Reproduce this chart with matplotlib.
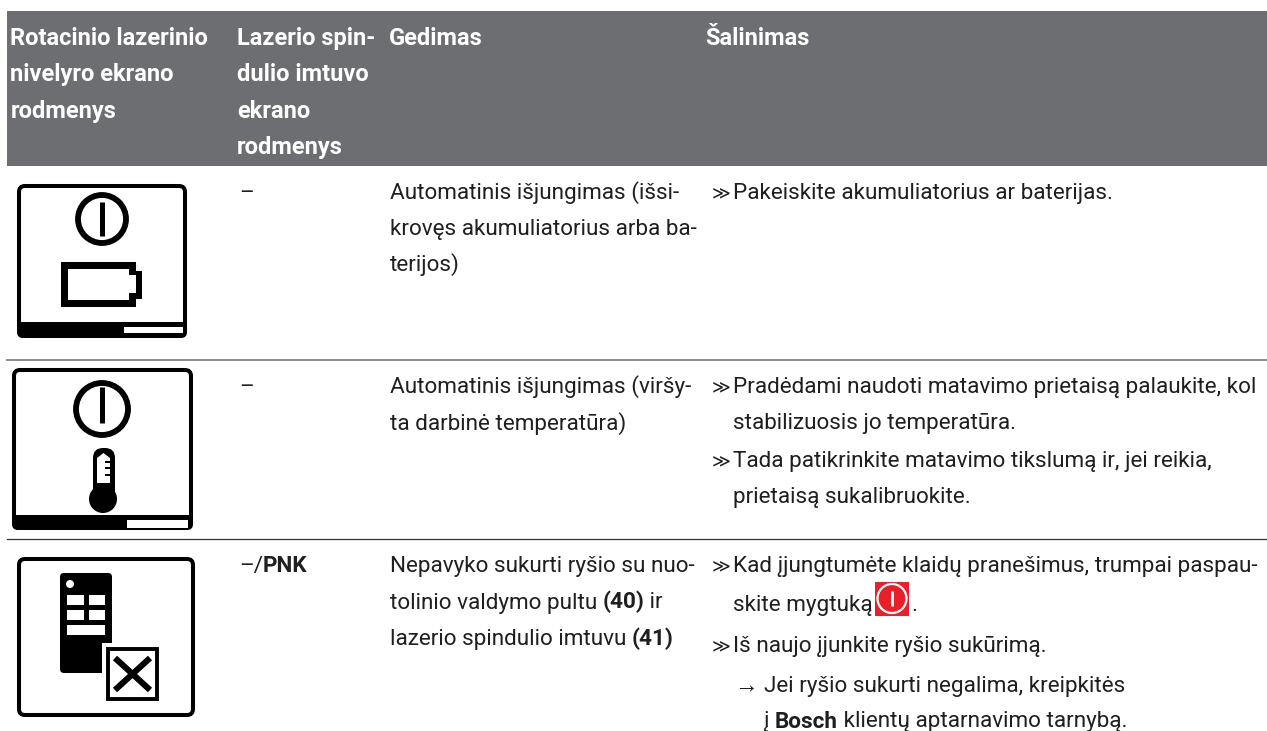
#!/usr/bin/env python
import matplotlib
matplotlib.use("Agg")
import matplotlib.pyplot as plt
from matplotlib.patches import Rectangle, Circle, FancyBboxPatch, Polygon

FONT = ["Roboto", "DejaVu Sans"]
INK = "#1f1f1f"

# header labels, one list per column
header_col1 = ["Rotacinio lazerinio", "nivelyro ekrano", "rodmenys"]
header_col2 = ["Lazerio spin-", "dulio imtuvo", "ekrano", "rodmenys"]
header_col3 = ["Gedimas"]
header_col4 = ["Šalinimas"]

# body text, **...** marks bold pieces
row1_receiver = ["–"]
row1_fault = ["Automatinis išjungimas (išsi-", "krovęs akumuliatorius arba ba-", "terijos)"]
row1_fix = ["Pakeiskite akumuliatorius ar baterijas."]

row2_receiver = ["–"]
row2_fault = ["Automatinis išjungimas (viršy-", "ta darbinė temperatūra)"]
row2_fix1 = ["Pradėdami naudoti matavimo prietaisą palaukite, kol", "stabilizuosis jo temperatūra."]
row2_fix2 = ["Tada patikrinkite matavimo tikslumą ir, jei reikia,", "prietaisą sukalibruokite."]

row3_receiver = ["–/**PNK**"]
row3_fault = ["Nepavyko sukurti ryšio su nuo-", "tolinio valdymo pultu **(40)** ir", "lazerio spindulio imtuvu **(41)**"]
row3_fix1 = ["Kad įjungtumėte klaidų pranešimus, trumpai paspau-", "skite mygtuką"]
row3_fix2 = ["Iš naujo įjunkite ryšio sukūrimą."]
row3_fix3 = ["Jei ryšio sukurti negalima, kreipkitės", "į **Bosch** klientų aptarnavimo tarnybą."]

fig = plt.figure(figsize=(12.67, 7.31), dpi=100)
ax = fig.add_axes([0, 0, 1, 1])
ax.set_xlim(0, 1267)
ax.set_ylim(731, 0)
ax.axis("off")
SIZE = 16.2
HEAD = 17.0


def rich(x, y, s, bold=False, size=SIZE, color=INK):
    # draw a line piece by piece so bold words follow regular ones
    r = fig.canvas.get_renderer()
    for i, part in enumerate(s.split("**")):
        if not part:
            continue
        w = "bold" if bold or i % 2 else "normal"
        t = ax.text(x, y, part, family=FONT, weight=w, fontsize=size, color=color, va="baseline", ha="left")
        x += t.get_window_extent(r).width


def block(x, y, lines, pitch=36.5):
    for i, s in enumerate(lines):
        rich(x, y + i * pitch, s)


def head(x, lines):
    for i, s in enumerate(lines):
        rich(x, 45 + i * 36.3, s, True, HEAD, "white")


def bullet(y):
    ax.text(711.5, y, "≫", family="DejaVu Sans", fontsize=13, color=INK, va="baseline", ha="left")


def black(x0, y0, x1, y1, color="black"):
    ax.add_patch(Rectangle((x0, y0), x1 - x0, y1 - y0, fc=color, ec="none"))


def frame(x0, y0, x1, y1):
    # outer edge of the icon box is x0..x1, y0..y1
    ax.add_patch(FancyBboxPatch((x0 + 2, y0 + 2), x1 - x0 - 4, y1 - y0 - 4, boxstyle="round,pad=0,rounding_size=6",
                                fc="white", ec="black", lw=2.9))


def footer(x0, x1, top, y1, slot0, slot1, slot_t, slot_b):
    ax.add_patch(FancyBboxPatch((x0, top), x1 - x0, y1 - top, boxstyle="round,pad=0,rounding_size=6", fc="black", ec="none"))
    black(x0, top, x1, top + 7)
    black(slot0, slot_t, slot1, slot_b, "white")


def power(cx, cy, r, top, bottom):
    ax.add_patch(Circle((cx, cy), r, fc="none", ec="black", lw=4.2))
    ax.plot([cx, cx], [top, bottom], color="black", lw=3.6, solid_capstyle="butt")


# header band and separators
black(7, 11, 1267, 165.5, "#6d6e71")
ax.plot([7, 1267], [360, 360], color="#777777", lw=1.2)
ax.plot([7, 1267], [538.5, 538.5], color="#333333", lw=0.9)

head(10.5, header_col1)
head(237, header_col2)
head(388.5, header_col3)
head(705, header_col4)

# row 1
block(239, 199, row1_receiver, 36)
block(389.5, 199, row1_fault, 36)
bullet(199)
block(733, 199, row1_fix)
frame(17, 184, 187, 338)
footer(17, 187, 322, 338, 124, 183, 327, 333)
power(102, 219, 24, 202, 236)
black(61, 262, 136, 307)
black(136, 271, 142, 299)
black(68, 269, 129, 300, "white")
black(129, 275, 136, 293, "white")

# row 2
block(239, 393, row2_receiver)
block(389.5, 393, row2_fault)
bullet(393)
block(733, 393, row2_fix1)
bullet(467)
block(733, 467, row2_fix2)
frame(12, 368, 193, 530)
footer(12, 193, 515, 530, 127, 188, 520, 528)
power(102, 409, 26, 387, 423)
ax.add_patch(FancyBboxPatch((93, 448), 22, 52, boxstyle="round,pad=0,rounding_size=10", fc="black", ec="none"))
ax.add_patch(Circle((103, 499), 14, fc="black", ec="none"))
ax.add_patch(Polygon([(97, 483), (97, 458), (103.5, 453), (110, 458), (110, 483)], fc="white", ec="none"))
black(105, 461, 110, 463)
black(105, 467, 110, 469)
black(105, 474, 110, 476)

# row 3
block(239, 572, row3_receiver)
block(389.5, 572, row3_fault)
bullet(572)
block(733, 572, row3_fix1, 39)
black(875, 582, 909, 615.5, "#e8202a")
ax.add_patch(Circle((892, 598.5), 14.5, fc="none", ec="white", lw=1.6))
ax.plot([892, 892], [591, 606], color="white", lw=2, solid_capstyle="butt")
ax.text(911, 611, ".", family=FONT, fontsize=SIZE, color=INK, va="baseline")
bullet(652)
block(733, 652, row3_fix2)
ax.text(734, 692, "→", family="Liberation Sans", fontsize=17, color=INK, va="baseline")
block(764, 692, row3_fix3, 35.5)
frame(17, 557, 195, 717)
ax.add_patch(FancyBboxPatch((60, 573), 52, 100, boxstyle="round,pad=0,rounding_size=4", fc="black", ec="none"))
ax.add_patch(Circle((70, 584), 4, fc="white", ec="none"))
for bx, by, bw in [(67, 595, 17), (89, 595, 16), (67, 610, 17), (89, 610, 16), (67, 625, 38)]:
    black(bx, by, bx + bw, by + 9.5, "white")
black(102, 643, 163, 705, "white")
ax.add_patch(Rectangle((108, 649), 49, 50, fc="white", ec="black", lw=2.8))
ax.plot([115, 150], [658, 690], color="black", lw=4.4, solid_capstyle="butt")
ax.plot([115, 150], [690, 658], color="black", lw=4.4, solid_capstyle="butt")

fig.savefig("out.png", dpi=100)
